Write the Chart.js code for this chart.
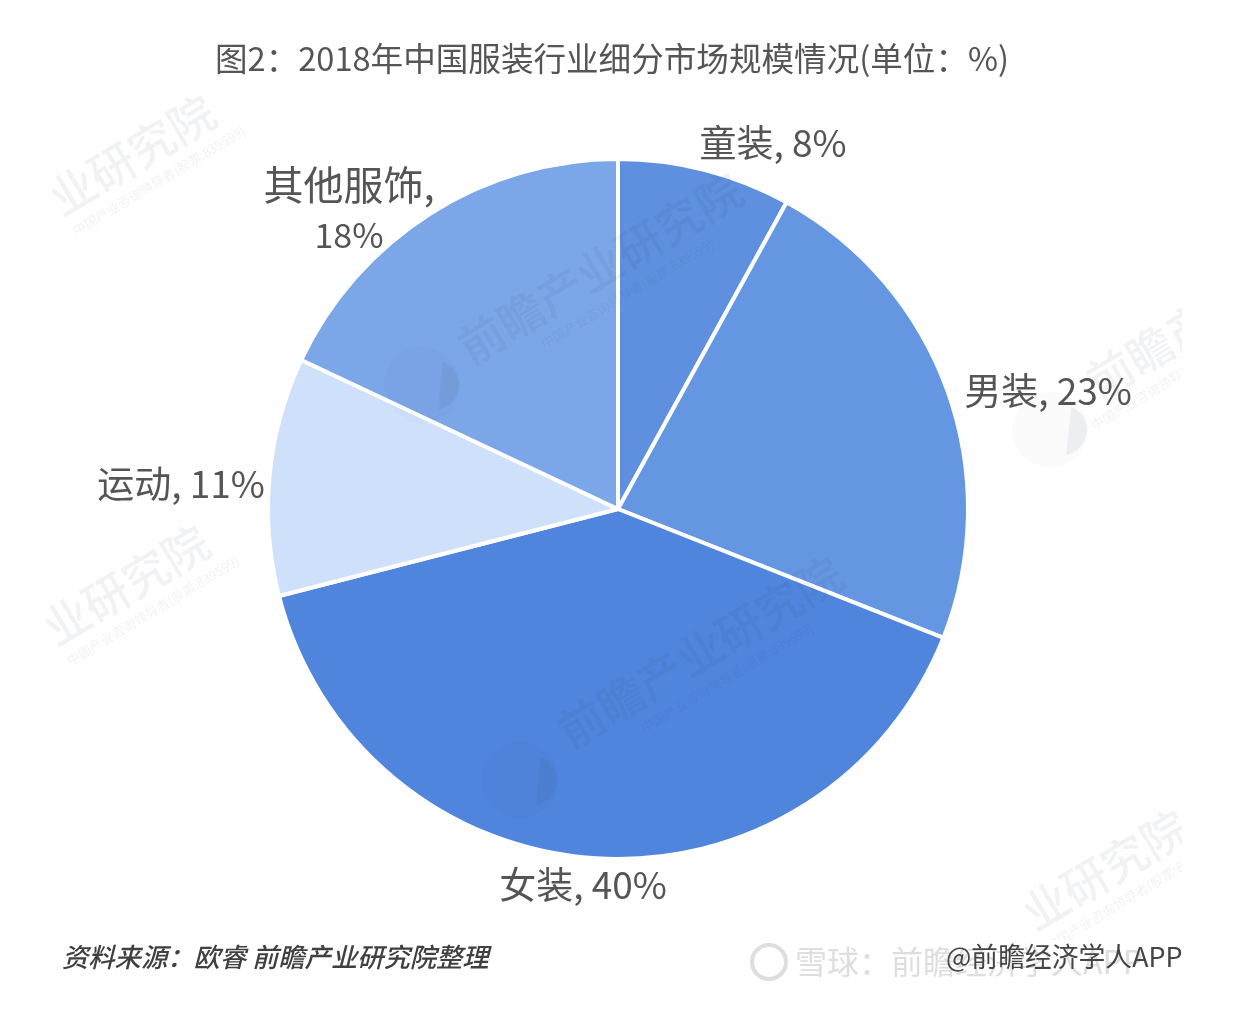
<!DOCTYPE html>
<html><head><meta charset="utf-8">
<script src="https://cdn.jsdelivr.net/npm/chart.js@4"></script>
<style>html,body{margin:0;padding:0;background:#fff}#w{position:absolute;left:0;top:0;width:1234px;height:1016px}</style>
</head><body><div id="w"><canvas id="c"></canvas></div>
<script>
const categories=["童装","男装","女装","运动","其他服饰"];
const values=[8,23,40,11,18];
const colours=["#5f8fdf","#6596e2","#4f85dc","#cfe1fa","#7ba6e8"];
const labelLines=[["童装, 8%"],["男装, 23%"],["女装, 40%"],["运动, 11%"],["其他服饰,","18%"]];
const labelSizes=[[37],[37],[37],[37],[40,34]];
const labelPos=[[773,143],[1048,391],[583,885],[181,484],[349,210]];
const titleText="图2：2018年中国服装行业细分市场规模情况(单位：%)";
const sourceText="资料来源：欧睿 前瞻产业研究院整理";
const creditText="@前瞻经济学人APP";
const siteText="雪球：前瞻经济学人APP";
const markFull="前瞻产业研究院";
const markPart="业研究院";
const markEnd="前瞻产";
const markSub="中国产业咨询领导者(股票:839599)";
const cjk='"Noto Sans CJK SC","Noto Sans",sans-serif';
function wm(g,s,x,y,sub){g.save();g.translate(x,y);g.rotate(-31*Math.PI/180);g.textAlign='center';
 g.font='500 46px '+cjk;g.fillText(s,0,0);
 g.font='13px '+cjk;g.fillText(sub,10,36);g.restore();}
function logo(g,x,y){g.save();g.beginPath();g.arc(x,y,38,0,Math.PI*2);g.globalAlpha=.25;g.fill();g.globalAlpha=1;
 g.beginPath();g.arc(x+12,y,25,-1.2,1.4);g.closePath();g.fill();g.restore();}
const textPlugin={id:'t',afterDraw(ch){const g=ch.ctx;g.save();
 g.textBaseline='middle';
 g.save();g.beginPath();g.rect(42,90,1140,850);g.clip();
 g.fillStyle='rgba(60,70,100,.07)';
 wm(g,markPart,132,155,markSub);wm(g,markPart,126,585,markSub);
 wm(g,markFull,600,268,markSub);wm(g,markFull,700,652,markSub);
 wm(g,markEnd,1150,350,markSub);wm(g,markPart,1105,870,markSub);
 logo(g,422,385);logo(g,520,780);logo(g,1050,430);
 g.restore();
 g.fillStyle='#dedede';g.strokeStyle='#dedede';g.lineWidth=4;
 g.beginPath();g.arc(769,962,17,0,Math.PI*2);g.stroke();
 g.textAlign='left';g.font='32px '+cjk;g.fillText(siteText,795,962);
 g.textAlign='center';g.fillStyle='#555';
 labelLines.forEach((ls,i)=>{const p=labelPos[i];ls.forEach((s,j)=>{const y=p[1]+(j-(ls.length-1)/2)*51;g.font=labelSizes[i][j]+'px '+cjk;g.fillText(s,p[0],y);});});
 g.font='32.6px '+cjk;g.fillText(titleText,612,59);
 g.textAlign='left';g.font='italic 500 26.3px '+cjk;g.fillStyle='#404040';g.fillText(sourceText,62,957);
 g.font='26.8px '+cjk;g.fillStyle='#444';g.fillText(creditText,946,957);
 g.restore();}};
new Chart(document.getElementById('c'),{type:'pie',data:{labels:categories,datasets:[{data:values,backgroundColor:colours,borderColor:'#fff',borderWidth:4}]},
options:{responsive:true,maintainAspectRatio:false,animation:false,
 layout:{padding:{left:266,right:264,top:157,bottom:155}},
 plugins:{legend:{display:false},tooltip:{enabled:false},title:{display:false}}},plugins:[textPlugin]});
</script></body></html>
